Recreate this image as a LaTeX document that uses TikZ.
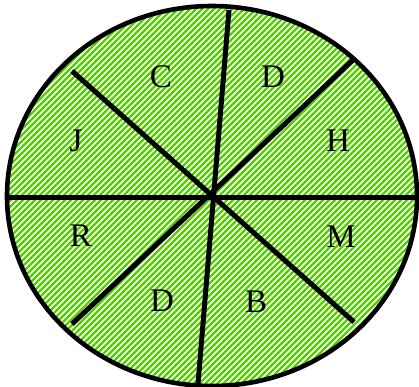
\documentclass[tikz,border=0pt]{standalone}
\usepackage{fontspec}
\setmainfont{Liberation Serif}
\definecolor{hatchgreen}{RGB}{85,205,0}
\begin{document}
\begin{tikzpicture}[x=1pt,y=-1pt,
  divider/.style={line width=5pt},
  rim/.style={line width=4.6pt},
  stripe/.style={white,line width=1.6pt},
  lab/.style={font=\fontsize{33}{33}\selectfont,inner sep=0pt}]
\useasboundingbox (0,0) rectangle (419,386);
% hatched fill
\begin{scope}
  \clip (212,196) ellipse [x radius=205, y radius=190];
  \fill[hatchgreen] (0,0) rectangle (419,386);
  \foreach \c in {-420,-414,...,430}
    \draw[stripe] (\c,400) -- ++(400,-400);
\end{scope}
% end points of the dividers
\coordinate (W) at (8,197);
\coordinate (E) at (416,197);
\coordinate (N) at (229,10);
\coordinate (S) at (198,384);
\coordinate (NE) at (355,58);
\coordinate (SW) at (72,324);
\coordinate (NW) at (72,71);
\coordinate (SE) at (354,322);
\draw[divider] (W) -- (E);
\draw[divider] (N) -- (S);
\draw[divider] (NE) -- (SW);
\draw[divider] (NW) -- (SE);
\draw[rim] (212,196) ellipse [x radius=205, y radius=190];
% labels
\node[lab] (lC) at (161,77) {C};
\node[lab] (lD1) at (273,77) {D};
\node[lab] (lJ) at (76,141) {J};
\node[lab] (lH) at (338,141) {H};
\node[lab] (lR) at (81,236) {R};
\node[lab] (lM) at (341,237) {M};
\node[lab] (lD2) at (162,301) {D};
\node[lab] (lB) at (256,302) {B};
\end{tikzpicture}
\end{document}
